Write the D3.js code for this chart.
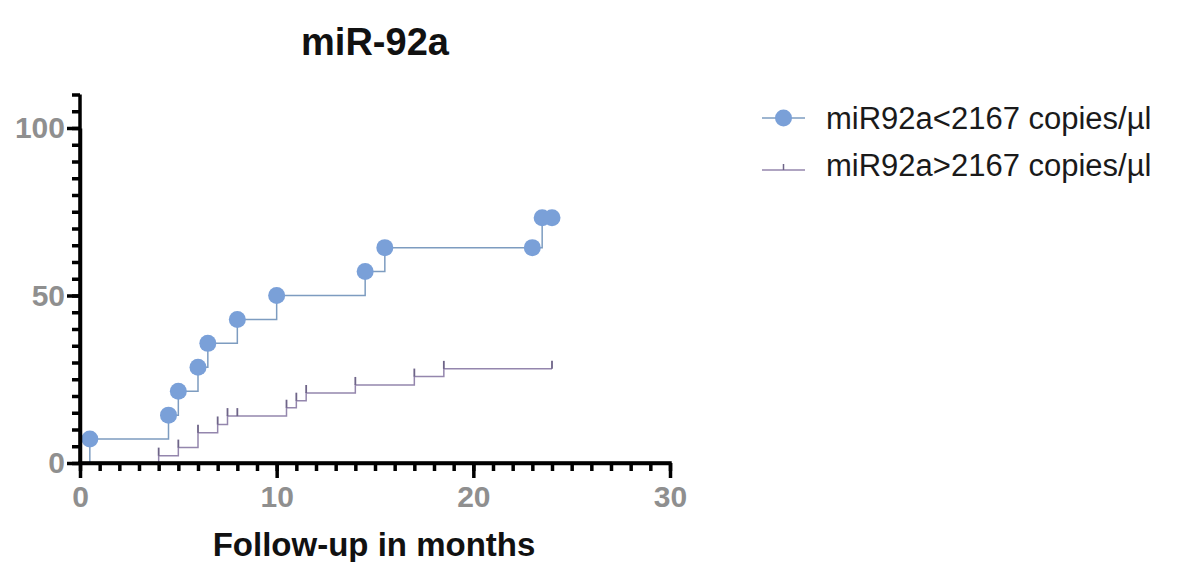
<!DOCTYPE html>
<html>
<head>
<meta charset="utf-8">
<script src="https://cdn.jsdelivr.net/npm/d3@7"></script>
<style>
  body { margin: 0; background: #fff; }
  svg text { font-family: "Liberation Sans", Arial, sans-serif; }
</style>
</head>
<body>
<svg id="km" width="1181" height="562"></svg>
<script>
// group with low miR92a (circles)
const lowMonths = [0, 0.5, 4.5, 5, 6, 6.5, 8, 10, 14.5, 15.5, 23, 23.5, 24];
const lowPct = [0, 7.14, 14.29, 21.43, 28.57, 35.71, 42.86, 50, 57.14, 64.29, 64.29, 73.21, 73.21];
// group with high miR92a (censor ticks)
const highMonths = [0, 4, 5, 6, 7, 7.5, 8, 10.5, 11, 11.5, 14, 17, 18.5, 24];
const highPct = [0, 2.2, 4.6, 9.0, 11.5, 14.0, 14.0, 16.5, 18.6, 20.9, 23.3, 25.8, 28.1, 28.1];

const seriesNames = ["miR92a<2167 copies/\u00b5l", "miR92a>2167 copies/\u00b5l"];
const xMajorTicks = [0, 10, 20, 30];
const yMajorTicks = [0, 50, 100];

document.addEventListener('DOMContentLoaded', _ => {
  const svg = d3.select("svg#km");
  const margins = {"top": 128, "left": 80};
  const chartWidth = 590;
  const chartHeight = 335;

  const xScale = d3.scaleLinear().domain([0, 30]).range([0, chartWidth]);
  const yScale = d3.scaleLinear().domain([0, 100]).range([chartHeight, 0]);

  const chart = svg.append("g").attr("transform", "translate(" + margins.left + "," + margins.top + ")");

  const lowData = lowMonths.map((m, i) => ({m: m, p: lowPct[i]}));
  const highData = highMonths.map((m, i) => ({m: m, p: highPct[i]}));

  const line = d3.line().x(d => xScale(d.m)).y(d => yScale(d.p)).curve(d3.curveStepAfter);

  const lowColor = "#7d9cc0";
  const dotColor = "#7aa0d8";
  const highColor = "#9486ad";
  const tickColor = "#6e6488";

  // high group
  chart.append("path").datum(highData)
    .attr("d", line)
    .attr("fill", "none")
    .attr("stroke", highColor)
    .attr("stroke-width", 1.5);
  chart.selectAll("line.censor").data(highData.slice(1)).enter()
    .append("line").attr("class", "censor")
    .attr("x1", d => xScale(d.m)).attr("x2", d => xScale(d.m))
    .attr("y1", d => yScale(d.p)).attr("y2", d => yScale(d.p) - 8)
    .attr("stroke", tickColor)
    .attr("stroke-width", 1.8);

  // low group
  chart.append("path").datum(lowData)
    .attr("d", line)
    .attr("fill", "none")
    .attr("stroke", lowColor)
    .attr("stroke-width", 1.5);
  chart.selectAll("circle.dot").data(lowData.slice(1)).enter()
    .append("circle").attr("class", "dot")
    .attr("cx", d => xScale(d.m))
    .attr("cy", d => yScale(d.p))
    .attr("r", 8.5)
    .attr("fill", dotColor);

  // axes
  const axisG = svg.append("g");
  const xMinor = d3.axisBottom(xScale).tickValues(d3.range(0, 31, 1)).tickSize(8).tickFormat("").tickSizeOuter(0);
  const xMajor = d3.axisBottom(xScale).tickValues(xMajorTicks).tickSize(15).tickPadding(8).tickSizeOuter(0);
  const yMinor = d3.axisLeft(yScale.copy().domain([0, 110]).range([chartHeight, chartHeight - yScale(0) + yScale(110)]))
    .tickValues(d3.range(0, 111, 5)).tickSize(8).tickFormat("").tickSizeOuter(0);
  const yMajor = d3.axisLeft(yScale).tickValues(yMajorTicks).tickSize(13).tickPadding(2).tickSizeOuter(0);

  const gx1 = axisG.append("g").attr("transform", "translate(" + margins.left + "," + (margins.top + chartHeight) + ")").call(xMinor);
  const gx2 = axisG.append("g").attr("transform", "translate(" + margins.left + "," + (margins.top + chartHeight) + ")").call(xMajor);
  const gy1 = axisG.append("g").attr("transform", "translate(" + margins.left + "," + margins.top + ")").call(yMinor);
  const gy2 = axisG.append("g").attr("transform", "translate(" + margins.left + "," + margins.top + ")").call(yMajor);

  [gx1, gx2, gy1, gy2].forEach(g => {
    g.selectAll("path.domain").attr("stroke", "#000").attr("stroke-width", 3.5);
    g.selectAll(".tick line").attr("stroke", "#000").attr("stroke-width", 3.5);
    g.selectAll(".tick text")
      .attr("fill", "#8f8f8f")
      .style("font-size", "30px")
      .style("font-weight", "bold");
  });
  gx2.select("path.domain").attr("d", "M-2,0H" + (chartWidth + 1.75));
  gy1.select("path.domain").attr("d", "M0," + (chartHeight + 2) + "V" + (chartHeight - yScale(0) + yScale(110)));

  // title + axis label
  svg.append("text")
    .text("miR-92a")
    .attr("x", margins.left + chartWidth / 2)
    .attr("y", 55)
    .attr("text-anchor", "middle")
    .style("font-size", "38px")
    .style("font-weight", "bold")
    .attr("fill", "#111");
  svg.append("text")
    .text("Follow-up in months")
    .attr("x", margins.left + chartWidth / 2 - 1)
    .attr("y", 556)
    .attr("text-anchor", "middle")
    .style("font-size", "33px")
    .style("font-weight", "bold")
    .attr("fill", "#111");

  // legend
  const legend = svg.append("g").attr("transform", "translate(762,118)");
  legend.append("line").attr("x1", 0).attr("x2", 43).attr("y1", 0).attr("y2", 0)
    .attr("stroke", lowColor).attr("stroke-width", 1.5);
  legend.append("circle").attr("cx", 21.5).attr("cy", 0).attr("r", 8.5).attr("fill", dotColor);
  legend.append("line").attr("x1", 0).attr("x2", 43).attr("y1", 52).attr("y2", 52)
    .attr("stroke", highColor).attr("stroke-width", 1.5);
  legend.append("line").attr("x1", 21.5).attr("x2", 21.5).attr("y1", 52).attr("y2", 46)
    .attr("stroke", tickColor).attr("stroke-width", 1.5);
  legend.selectAll("text.lab").data(seriesNames).enter()
    .append("text").attr("class", "lab")
    .text(d => d)
    .attr("x", 64)
    .attr("y", (d, i) => i * 47)
    .attr("dy", "0.35em")
    .style("font-size", "31px")
    .attr("fill", "#1a1a1a");
});
</script>
</body>
</html>
